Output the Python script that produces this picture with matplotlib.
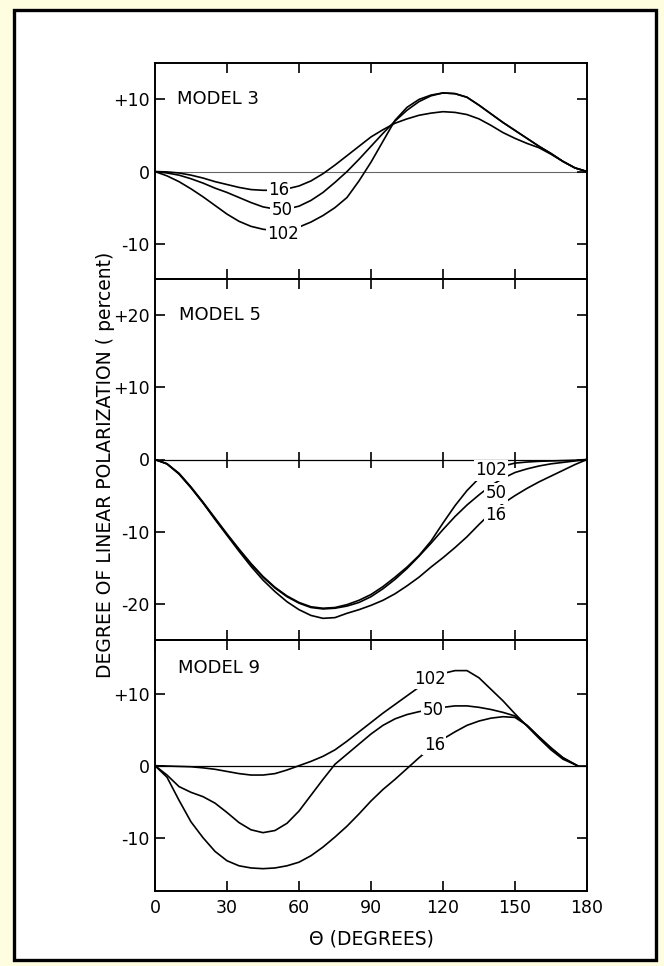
import matplotlib
matplotlib.use("Agg")
import matplotlib.pyplot as plt
from matplotlib.patches import Rectangle

plt.rcParams["font.family"] = ["DejaVu Sans"]

# ---------------- data ----------------
theta = [0, 5, 10, 15, 20, 25, 30, 35, 40, 45, 50, 55, 60, 65, 70, 75, 80, 85, 90,
         95, 100, 105, 110, 115, 120, 125, 130, 135, 140, 145, 150, 155, 160, 165,
         170, 175, 180]
theta9 = [0, 5, 10, 15, 20, 25, 30, 35, 40, 45, 50, 55, 60, 65, 70, 75, 80, 85, 90,
          95, 100, 105, 110, 115, 120, 125, 130, 135, 140, 145, 150, 155, 160, 165,
          170, 176]

m3_16 = [0, -0.05, -0.2, -0.5, -0.9, -1.4, -1.8, -2.2, -2.5, -2.6, -2.6, -2.4, -2.0,
         -1.3, -0.3, 0.9, 2.2, 3.5, 4.8, 5.8, 6.7, 7.3, 7.8, 8.1, 8.3, 8.2, 7.9, 7.3,
         6.4, 5.4, 4.6, 3.9, 3.3, 2.4, 1.4, 0.5, 0]
m3_50 = [0, -0.2, -0.5, -1.0, -1.6, -2.3, -2.9, -3.6, -4.3, -4.9, -5.2, -5.2, -4.8,
         -4.0, -2.9, -1.5, 0.0, 1.7, 3.5, 5.3, 7.0, 8.5, 9.7, 10.5, 10.9, 10.8, 10.3,
         9.2, 8.0, 6.8, 5.7, 4.6, 3.5, 2.5, 1.4, 0.5, 0]
m3_102 = [0, -0.6, -1.4, -2.4, -3.5, -4.7, -5.9, -6.9, -7.6, -8.0, -8.2, -8.1, -7.7,
          -7.0, -6.1, -5.0, -3.6, -1.3, 1.3, 4.2, 7.1, 8.9, 10.0, 10.6, 10.9, 10.8,
          10.3, 9.2, 8.0, 6.8, 5.7, 4.6, 3.5, 2.5, 1.4, 0.5, 0]

m5_16 = [0, -0.6, -2.0, -3.9, -6.0, -8.3, -10.5, -12.7, -14.8, -16.7, -18.3, -19.7,
         -20.8, -21.6, -22.0, -21.9, -21.3, -20.8, -20.2, -19.5, -18.6, -17.5, -16.3,
         -14.9, -13.6, -12.2, -10.7, -9.0, -7.4, -6.1, -5.0, -4.0, -3.1, -2.3, -1.5,
         -0.7, 0]
m5_50 = [0, -0.6, -2.0, -3.9, -6.0, -8.2, -10.4, -12.5, -14.5, -16.3, -17.8, -19.0,
         -19.9, -20.5, -20.7, -20.6, -20.3, -19.8, -19.0, -17.9, -16.6, -15.1, -13.4,
         -11.6, -9.7, -7.9, -6.3, -4.9, -3.6, -2.6, -1.8, -1.3, -0.9, -0.6, -0.4,
         -0.2, 0]
m5_102 = [0, -0.6, -1.9, -3.8, -5.9, -8.1, -10.3, -12.4, -14.4, -16.2, -17.7, -18.9,
          -19.8, -20.4, -20.6, -20.5, -20.1, -19.5, -18.7, -17.6, -16.3, -14.9, -13.3,
          -11.3, -8.8, -6.4, -4.3, -2.6, -1.5, -0.9, -0.5, -0.35, -0.25, -0.2, -0.15,
          -0.1, 0]

m9_16 = [0, -1.6, -4.8, -7.8, -10.0, -11.9, -13.2, -13.9, -14.2, -14.3, -14.2, -13.9,
         -13.4, -12.5, -11.3, -9.9, -8.4, -6.7, -4.9, -3.3, -1.9, -0.4, 1.1, 2.5, 3.7,
         4.7, 5.6, 6.2, 6.6, 6.8, 6.7, 5.6, 4.0, 2.4, 1.1, 0]
m9_50 = [0, -1.3, -2.9, -3.7, -4.3, -5.2, -6.5, -7.9, -8.9, -9.3, -9.0, -8.0, -6.3,
         -4.1, -1.9, 0.2, 1.6, 3.0, 4.4, 5.6, 6.5, 7.1, 7.5, 7.8, 8.1, 8.3, 8.3, 8.1,
         7.8, 7.4, 6.9, 5.6, 4.0, 2.5, 1.1, 0]
m9_102 = [0, -0.05, -0.1, -0.15, -0.3, -0.5, -0.8, -1.1, -1.3, -1.3, -1.1, -0.6, 0.0,
          0.6, 1.3, 2.2, 3.4, 4.7, 6.0, 7.3, 8.5, 9.7, 10.9, 12.0, 12.8, 13.2, 13.2,
          12.2, 10.6, 9.0, 7.2, 5.5, 3.8, 2.2, 0.9, 0]

x_ticks = [0, 30, 60, 90, 120, 150, 180]
inner_ticks = [30, 60, 90, 120, 150]
y_ticks_3 = [-10, 0, 10]
y_labels_3 = ["-10", "0", "+10"]
y_ticks_5 = [-20, -10, 0, 10, 20]
y_labels_5 = ["-20", "-10", "0", "+10", "+20"]
y_ticks_9 = [-10, 0, 10]
y_labels_9 = ["-10", "0", "+10"]

curve_names = ["16", "50", "102"]
# label anchor positions (theta, value) for each panel
lab3 = [(51.5, -2.5), (53, -5.3), (53.5, -8.7)]
lab5 = [(142, -7.7), (142, -4.7), (140, -1.5)]
lab9 = [(116.4, 2.9), (115.8, 7.7), (114.5, 12.1)]

# ---------------- figure ----------------
W, H = 664, 966
fig = plt.figure(figsize=(W / 100, H / 100), dpi=100, facecolor="#FFFDE0")

fig.patches.append(Rectangle((14 / W, 1 - 960 / H), (656 - 14) / W, (960 - 10) / H,
                             transform=fig.transFigure, facecolor="white",
                             edgecolor="black", linewidth=2.4, zorder=-10))

left_px, right_px = 155, 587
def add_ax(top, bottom):
    return fig.add_axes([left_px / W, 1 - bottom / H, (right_px - left_px) / W,
                         (bottom - top) / H])

ax3 = add_ax(63, 279)
ax5 = add_ax(279, 640)
ax9 = add_ax(640, 891)

FS = 12.5
lw = 1.2
panels = [
    (ax3, theta, [m3_16, m3_50, m3_102], lab3, (-14.9, 15.05), y_ticks_3, y_labels_3,
     "MODEL 3", (9, 10)),
    (ax5, theta, [m5_16, m5_50, m5_102], lab5, (-25, 25), y_ticks_5, y_labels_5,
     "MODEL 5", (10, 20)),
    (ax9, theta9, [m9_16, m9_50, m9_102], lab9, (-17.4, 17.45), y_ticks_9, y_labels_9,
     "MODEL 9", (9.5, 13.6)),
]

for i, (ax, xs, curves, labs, ylim, yt, yl, title, tpos) in enumerate(panels):
    ax.set_facecolor("none")
    for c in curves:
        ax.plot(xs, c, color="black", lw=lw, zorder=2)
    ax.axhline(0, color="black", lw=0.9 if i != 0 else 0.8,
               alpha=1.0 if i != 0 else 0.6, zorder=1)
    for name, (lx, ly) in zip(curve_names, labs):
        ax.text(lx, ly, name, fontsize=12, ha="center", va="center", zorder=3,
                bbox=dict(boxstyle="square,pad=0.08", fc="white", ec="none"))
    ax.text(tpos[0], tpos[1], title, fontsize=13, ha="left", va="center")
    ax.set_xlim(0, 180)
    ax.set_ylim(*ylim)
    ax.set_yticks(yt)
    ax.set_yticklabels(yl, fontsize=FS)
    ax.set_xticks(inner_ticks if i < 2 else x_ticks)
    ax.tick_params(axis="both", direction="in", length=7, width=1.2,
                   top=True, bottom=True, left=True, right=True, pad=4)
    ax.tick_params(axis="x", labelbottom=(i == 2), labelsize=FS, pad=6)
    for s in ax.spines.values():
        s.set_linewidth(1.4)

# crossing ticks on the zero line of the middle panel
ax5.plot(inner_ticks, [0] * len(inner_ticks), ls="none", marker="|", ms=11,
         mew=1.2, color="black", zorder=2)

ax9.set_xlabel("Θ (DEGREES)", fontsize=13.5, labelpad=9)
fig.text(106 / W, 1 - 465 / H, "DEGREE OF LINEAR POLARIZATION ( percent)",
         rotation=90, fontsize=13.5, ha="center", va="center")

fig.savefig("out.png", dpi=100, facecolor=fig.get_facecolor())
